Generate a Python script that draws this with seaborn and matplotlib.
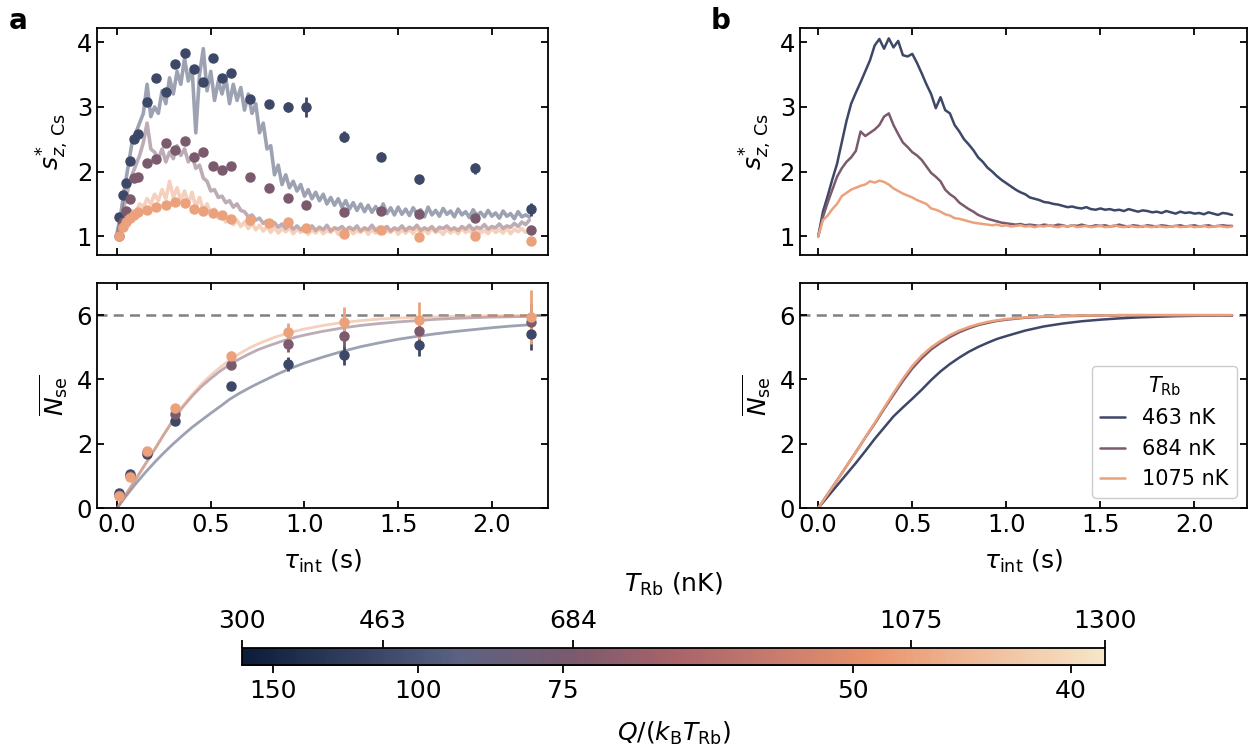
import numpy as np
import matplotlib
matplotlib.use("Agg")
import matplotlib.pyplot as plt
import seaborn as sns
from matplotlib.colors import LinearSegmentedColormap, Normalize
from matplotlib.cm import ScalarMappable

# ---------------------------------------------------------------- data
temps_nK = [463, 684, 1075]
temp_labels = ["463 nK", "684 nK", "1075 nK"]

# measured spin polarisation (panel a, top)
t_meas = [0.01, 0.03, 0.05, 0.07, 0.09, 0.11, 0.16, 0.21, 0.26, 0.31, 0.36, 0.41,
          0.46, 0.51, 0.56, 0.61, 0.71, 0.81, 0.91, 1.01, 1.21, 1.41, 1.61, 1.91, 2.21]
s_meas_463 = [1.30, 1.64, 1.82, 2.17, 2.51, 2.58, 3.07, 3.44, 3.23, 3.67, 3.84, 3.58,
              3.38, 3.76, 3.45, 3.53, 3.13, 3.04, 3.00, 3.00, 2.54, 2.23, 1.88, 2.05, 1.42]
s_meas_684 = [1.00, 1.22, 1.39, 1.57, 1.90, 1.91, 2.14, 2.20, 2.44, 2.34, 2.48, 2.22,
              2.31, 2.09, 2.03, 2.08, 1.92, 1.74, 1.59, 1.48, 1.37, 1.39, 1.34, 1.28, 1.09]
s_meas_1075 = [1.00, 1.14, 1.22, 1.28, 1.33, 1.38, 1.41, 1.46, 1.49, 1.53, 1.52, 1.42,
               1.39, 1.36, 1.33, 1.27, 1.25, 1.21, 1.22, 1.12, 1.04, 1.10, 0.99, 1.00, 0.93]
s_err_463 = [0.05, 0.05, 0.05, 0.05, 0.05, 0.05, 0.05, 0.05, 0.05, 0.05, 0.05, 0.05,
             0.05, 0.05, 0.05, 0.05, 0.06, 0.06, 0.08, 0.15, 0.08, 0.07, 0.07, 0.08, 0.10]
s_err_684 = [0.03] * 25
s_err_1075 = [0.03] * 25

# single-trajectory simulation traces (panel a, top), sampled every 20 ms
t_trace_a = np.round(np.arange(111) * 0.02, 2)
trace_a_463 = [1.05, 1.35, 1.75, 2.10, 2.45, 2.60, 2.75, 2.90, 3.35, 2.85, 3.00,
               2.90, 3.25, 3.05, 3.45, 3.20, 3.55, 3.35, 3.75, 3.40, 3.60,
               2.60, 3.50, 3.90, 3.25, 3.55, 3.10, 3.40, 3.20, 3.45, 3.05,
               3.35, 3.10, 3.30, 2.95, 3.20, 2.90, 3.05, 2.60, 2.75, 2.35,
               2.40, 1.95, 2.10, 1.80, 1.95, 1.75, 1.85, 1.70, 1.80, 1.62,
               1.72, 1.58, 1.68, 1.55, 1.65, 1.50, 1.60, 1.48, 1.58, 1.45,
               1.55, 1.42, 1.52, 1.40, 1.50, 1.38, 1.48, 1.37, 1.46, 1.36,
               1.50, 1.35, 1.44, 1.33, 1.45, 1.34, 1.42, 1.32, 1.44, 1.35,
               1.41, 1.30, 1.45, 1.33, 1.40, 1.31, 1.43, 1.34, 1.39, 1.30,
               1.42, 1.33, 1.38, 1.29, 1.41, 1.32, 1.37, 1.30, 1.40, 1.31,
               1.36, 1.28, 1.39, 1.31, 1.35, 1.27, 1.38, 1.30, 1.33, 1.30]
trace_a_684 = [1.00, 1.25, 1.50, 1.75, 1.95, 2.10, 2.25, 2.45, 2.75, 2.35, 2.30,
               2.20, 2.35, 2.15, 2.30, 2.20, 2.40, 2.25, 2.35, 2.15, 2.25,
               2.05, 2.10, 1.90, 1.85, 1.70, 1.72, 1.60, 1.62, 1.52, 1.55,
               1.45, 1.50, 1.40, 1.38, 1.30, 1.33, 1.25, 1.28, 1.20, 1.24,
               1.17, 1.21, 1.14, 1.19, 1.12, 1.18, 1.11, 1.16, 1.10, 1.15,
               1.10, 1.16, 1.09, 1.14, 1.10, 1.17, 1.08, 1.13, 1.11, 1.15,
               1.09, 1.14, 1.10, 1.16, 1.08, 1.13, 1.10, 1.17, 1.09, 1.14,
               1.11, 1.15, 1.08, 1.13, 1.10, 1.16, 1.09, 1.14, 1.11, 1.17,
               1.09, 1.13, 1.10, 1.15, 1.08, 1.14, 1.12, 1.16, 1.10, 1.13,
               1.09, 1.15, 1.11, 1.17, 1.10, 1.14, 1.12, 1.18, 1.11, 1.15,
               1.13, 1.19, 1.12, 1.16, 1.14, 1.20, 1.15, 1.22, 1.18, 1.25]
trace_a_1075 = [1.00, 1.15, 1.25, 1.32, 1.40, 1.38, 1.50, 1.45, 1.58, 1.50, 1.65,
                1.55, 1.72, 1.58, 1.85, 1.60, 1.75, 1.55, 1.70, 1.50, 1.68,
                1.45, 1.60, 1.40, 1.50, 1.35, 1.42, 1.28, 1.35, 1.22, 1.30,
                1.18, 1.25, 1.15, 1.22, 1.12, 1.20, 1.10, 1.17, 1.08, 1.15,
                1.06, 1.14, 1.05, 1.12, 1.07, 1.13, 1.04, 1.11, 1.06, 1.12,
                1.03, 1.10, 1.05, 1.12, 1.04, 1.09, 1.06, 1.13, 1.03, 1.10,
                1.05, 1.11, 1.04, 1.09, 1.06, 1.12, 1.03, 1.10, 1.05, 1.11,
                1.04, 1.09, 1.06, 1.12, 1.03, 1.10, 1.05, 1.11, 1.04, 1.13,
                1.05, 1.10, 1.04, 1.12, 1.06, 1.09, 1.03, 1.11, 1.05, 1.10,
                1.04, 1.12, 1.06, 1.10, 1.03, 1.11, 1.05, 1.09, 1.04, 1.12,
                1.06, 1.10, 1.05, 1.13, 1.04, 1.11, 1.07, 1.12, 1.06, 1.10]

# mean number of spin-exchange collisions (panel a, bottom)
t_nse = [0.01, 0.07, 0.16, 0.31, 0.61, 0.91, 1.21, 1.61, 2.21]
nse_463 = [0.48, 1.06, 1.68, 2.71, 3.80, 4.49, 4.75, 5.06, 5.41]
nse_684 = [0.40, 1.00, 1.75, 2.92, 4.44, 5.11, 5.34, 5.50, 5.79]
nse_1075 = [0.37, 0.97, 1.77, 3.10, 4.72, 5.47, 5.79, 5.84, 5.94]
nse_err_463 = [0.05, 0.05, 0.05, 0.08, 0.12, 0.22, 0.30, 0.32, 0.50]
nse_err_684 = [0.05, 0.05, 0.06, 0.08, 0.12, 0.25, 0.32, 0.35, 0.60]
nse_err_1075 = [0.05, 0.05, 0.06, 0.09, 0.17, 0.30, 0.45, 0.57, 0.83]

# model curves for N_se
t_curve = [0.0, 0.05, 0.1, 0.15, 0.2, 0.25, 0.3, 0.35, 0.4, 0.45, 0.5, 0.55, 0.6,
           0.65, 0.7, 0.75, 0.8, 0.85, 0.9, 0.95, 1.0, 1.1, 1.2, 1.3, 1.4, 1.5,
           1.6, 1.7, 1.8, 1.9, 2.0, 2.1, 2.2]
fit_a_463 = [0.0, 0.39, 0.76, 1.10, 1.42, 1.72, 2.00, 2.26, 2.51, 2.73, 2.95, 3.16, 3.38,
             3.56, 3.72, 3.87, 4.01, 4.15, 4.28, 4.40, 4.51, 4.70, 4.87, 5.02, 5.14, 5.25,
             5.34, 5.42, 5.49, 5.55, 5.61, 5.66, 5.70]
fit_a_684 = [0.0, 0.45, 0.90, 1.36, 1.82, 2.29, 2.74, 3.14, 3.48, 3.78, 4.03, 4.26, 4.46,
             4.63, 4.78, 4.92, 5.03, 5.13, 5.23, 5.31, 5.38, 5.50, 5.60, 5.68, 5.74, 5.79,
             5.83, 5.87, 5.90, 5.92, 5.94, 5.95, 5.96]
fit_a_1075 = [0.0, 0.45, 0.90, 1.36, 1.82, 2.30, 2.75, 3.17, 3.53, 3.85, 4.13, 4.38, 4.60,
              4.79, 4.96, 5.10, 5.22, 5.33, 5.42, 5.50, 5.57, 5.68, 5.77, 5.83, 5.88, 5.91,
              5.93, 5.95, 5.96, 5.97, 5.98, 5.98, 5.99]

# simulated ensemble averages (panel b), sampled every 25 ms
t_trace_b = np.round(np.arange(89) * 0.025, 3)
trace_b_463 = [1.00, 1.38, 1.62, 1.88, 2.12, 2.45, 2.78, 3.05, 3.22, 3.38,
               3.55, 3.72, 3.95, 4.05, 3.90, 4.06, 3.92, 4.02, 3.80, 3.78,
               3.82, 3.68, 3.52, 3.35, 3.20, 2.98, 3.15, 2.95, 2.90, 2.72,
               2.62, 2.50, 2.42, 2.33, 2.22, 2.15, 2.06, 2.00, 1.93, 1.87,
               1.82, 1.77, 1.72, 1.68, 1.65, 1.60, 1.58, 1.56, 1.53, 1.52,
               1.50, 1.49, 1.47, 1.45, 1.46, 1.44, 1.43, 1.45, 1.42, 1.41,
               1.43, 1.41, 1.42, 1.40, 1.41, 1.39, 1.42, 1.40, 1.38, 1.40,
               1.39, 1.37, 1.38, 1.36, 1.39, 1.37, 1.35, 1.38, 1.36, 1.37,
               1.35, 1.36, 1.34, 1.37, 1.35, 1.33, 1.36, 1.35, 1.33]
trace_b_684 = [1.00, 1.30, 1.52, 1.72, 1.92, 2.05, 2.15, 2.22, 2.32, 2.62,
               2.55, 2.60, 2.65, 2.72, 2.85, 2.90, 2.72, 2.58, 2.45, 2.38,
               2.30, 2.25, 2.18, 2.08, 1.98, 1.92, 1.85, 1.72, 1.65, 1.60,
               1.52, 1.47, 1.42, 1.38, 1.33, 1.30, 1.27, 1.25, 1.23, 1.21,
               1.20, 1.19, 1.18, 1.19, 1.17, 1.18, 1.17, 1.16, 1.18, 1.17,
               1.16, 1.18, 1.17, 1.15, 1.17, 1.16, 1.18, 1.16, 1.15, 1.17,
               1.16, 1.17, 1.15, 1.16, 1.18, 1.16, 1.15, 1.17, 1.16, 1.15,
               1.17, 1.16, 1.15, 1.17, 1.16, 1.15, 1.16, 1.17, 1.15, 1.16,
               1.17, 1.15, 1.16, 1.17, 1.15, 1.16, 1.17, 1.16, 1.16]
trace_b_1075 = [1.00, 1.25, 1.32, 1.42, 1.50, 1.62, 1.67, 1.72, 1.75, 1.78,
                1.80, 1.85, 1.83, 1.86, 1.84, 1.80, 1.74, 1.70, 1.66, 1.63,
                1.60, 1.56, 1.53, 1.50, 1.43, 1.41, 1.38, 1.34, 1.32, 1.28,
                1.27, 1.25, 1.23, 1.21, 1.20, 1.19, 1.18, 1.17, 1.18, 1.16,
                1.17, 1.15, 1.16, 1.17, 1.15, 1.16, 1.14, 1.16, 1.15, 1.17,
                1.15, 1.14, 1.16, 1.15, 1.17, 1.14, 1.15, 1.16, 1.14, 1.15,
                1.16, 1.14, 1.15, 1.17, 1.15, 1.14, 1.16, 1.15, 1.14, 1.16,
                1.15, 1.14, 1.16, 1.15, 1.14, 1.15, 1.16, 1.14, 1.15, 1.16,
                1.14, 1.15, 1.16, 1.14, 1.15, 1.16, 1.15, 1.14, 1.15]
nse_b_463 = [0.0, 0.35, 0.70, 1.05, 1.40, 1.77, 2.15, 2.50, 2.85, 3.13, 3.40, 3.68, 3.98,
             4.25, 4.48, 4.68, 4.86, 5.01, 5.14, 5.26, 5.35, 5.52, 5.65, 5.74, 5.81, 5.86,
             5.90, 5.93, 5.95, 5.97, 5.98, 5.99, 5.99]
nse_b_684 = [0.0, 0.43, 0.86, 1.30, 1.74, 2.19, 2.62, 3.08, 3.52, 3.95, 4.34, 4.66, 4.93,
             5.14, 5.32, 5.47, 5.59, 5.69, 5.76, 5.82, 5.86, 5.92, 5.95, 5.97, 5.98, 5.99,
             6.0, 6.0, 6.0, 6.0, 6.0, 6.0, 6.0]
nse_b_1075 = [0.0, 0.43, 0.86, 1.30, 1.74, 2.20, 2.65, 3.12, 3.58, 4.02, 4.42, 4.74, 5.00,
              5.20, 5.38, 5.52, 5.63, 5.72, 5.79, 5.84, 5.88, 5.93, 5.96, 5.98, 5.99, 5.99,
              6.0, 6.0, 6.0, 6.0, 6.0, 6.0, 6.0]

nse_max = 6

# colour bar
cbar_T_ticks = [300, 463, 684, 1075, 1300]
cbar_Q_ticks = [150, 100, 75, 50, 40]
Q_over_kB_nK = 50400.0

# ---------------------------------------------------------------- style
sns.set_theme(style="ticks")
plt.rcParams.update({
    "font.family": ["DejaVu Sans"],
    "mathtext.fontset": "dejavusans",
    "font.size": 18,
    "axes.labelsize": 18,
    "xtick.labelsize": 17.5,
    "ytick.labelsize": 17.5,
    "axes.linewidth": 1.3,
    "axes.edgecolor": "black",
    "axes.labelcolor": "black",
    "text.color": "black",
    "xtick.color": "black",
    "ytick.color": "black",
    "xtick.direction": "in",
    "ytick.direction": "in",
    "xtick.top": True,
    "ytick.right": True,
    "xtick.major.size": 5,
    "ytick.major.size": 5,
    "xtick.major.width": 1.3,
    "ytick.major.width": 1.3,
})

cmap = LinearSegmentedColormap.from_list(
    "rb_temp",
    [(0.0, "#0b1d38"), (0.163, "#3e4868"), (0.25, "#5b6282"), (0.384, "#7b5a6d"),
     (0.50, "#a8636a"), (0.61, "#c57a6e"), (0.73, "#e9936b"), (0.845, "#efb896"),
     (1.0, "#f6e6c8")])
norm = Normalize(vmin=300, vmax=1300)
colors = [cmap(norm(T)) for T in temps_nK]

fig = plt.figure(figsize=(12.49, 7.45), dpi=100)
ax_a1 = fig.add_axes([0.0777, 0.6577, 0.3611, 0.3047])
ax_a2 = fig.add_axes([0.0777, 0.3181, 0.3611, 0.3020])
ax_b1 = fig.add_axes([0.6405, 0.6577, 0.3580, 0.3047])
ax_b2 = fig.add_axes([0.6405, 0.3181, 0.3580, 0.3020])
cax = fig.add_axes([0.1938, 0.1074, 0.6910, 0.0228])

# ---------------------------------------------------------------- panel a, top
for tr, c in zip([trace_a_463, trace_a_684, trace_a_1075], colors):
    sns.lineplot(x=t_trace_a, y=tr, ax=ax_a1, color=c, alpha=0.5, lw=2.6,
                 estimator=None, sort=False, zorder=1)
for s, e, c in zip([s_meas_463, s_meas_684, s_meas_1075],
                   [s_err_463, s_err_684, s_err_1075], colors):
    ax_a1.errorbar(t_meas, s, yerr=e, fmt="o", color=c, ms=6.5, elinewidth=2,
                   capsize=0, zorder=3)

# ---------------------------------------------------------------- panel a, bottom
ax_a2.axhline(nse_max, color="#808080", ls=(0, (4, 2.5)), lw=1.8, zorder=0)
for f, c in zip([fit_a_463, fit_a_684, fit_a_1075], colors):
    sns.lineplot(x=t_curve, y=f, ax=ax_a2, color=c, alpha=0.5, lw=2,
                 estimator=None, sort=False, zorder=1)
for n, e, c in zip([nse_463, nse_684, nse_1075],
                   [nse_err_463, nse_err_684, nse_err_1075], colors):
    ax_a2.errorbar(t_nse, n, yerr=e, fmt="o", color=c, ms=6.5, elinewidth=2,
                   capsize=0, zorder=3)

# ---------------------------------------------------------------- panel b
for tr, c in zip([trace_b_463, trace_b_684, trace_b_1075], colors):
    sns.lineplot(x=t_trace_b, y=tr, ax=ax_b1, color=c, lw=1.8,
                 estimator=None, sort=False)

ax_b2.axhline(nse_max, color="#808080", ls=(0, (4, 2.5)), lw=1.8, zorder=0)
for f, c, lab in zip([nse_b_463, nse_b_684, nse_b_1075], colors, temp_labels):
    sns.lineplot(x=t_curve, y=f, ax=ax_b2, color=c, lw=1.8, label=lab,
                 estimator=None, sort=False)
ax_b2.legend(title=r"$T_{\mathrm{Rb}}$", loc="lower right", fontsize=15,
             title_fontsize=15, handlelength=1.2, frameon=True, fancybox=True,
             edgecolor="#cccccc", framealpha=1.0, borderaxespad=0.5)

# ---------------------------------------------------------------- axes cosmetics
for ax in (ax_a1, ax_b1):
    ax.set_ylim(0.71, 4.22)
    ax.set_yticks([1, 2, 3, 4])
    ax.set_ylabel(r"$s^{*}_{z,\,\mathrm{Cs}}$")
    ax.tick_params(labelbottom=False)
for ax in (ax_a2, ax_b2):
    ax.set_ylim(0, 7)
    ax.set_yticks([0, 2, 4, 6])
    ax.set_ylabel(r"$\overline{N_{\mathrm{se}}}$")
    ax.set_xlabel(r"$\tau_{\mathrm{int}}$ (s)", labelpad=8)
for ax in (ax_a1, ax_a2):
    ax.set_xlim(-0.107, 2.30)
for ax in (ax_b1, ax_b2):
    ax.set_xlim(-0.097, 2.28)
for ax in (ax_a1, ax_a2, ax_b1, ax_b2):
    ax.set_xticks([0, 0.5, 1.0, 1.5, 2.0])
    ax.xaxis.set_major_formatter(matplotlib.ticker.FormatStrFormatter("%.1f"))
    ax.tick_params(which="both", direction="in", top=True, right=True)
    ax.minorticks_off()

fig.text(0.007, 0.972, "a", fontsize=20, fontweight="bold", va="center")
fig.text(0.569, 0.972, "b", fontsize=20, fontweight="bold", va="center")

# ---------------------------------------------------------------- colour bar
cbar_fs = 18
sm = ScalarMappable(norm=norm, cmap=cmap)
cb = fig.colorbar(sm, cax=cax, orientation="horizontal")
cb.outline.set_linewidth(1.3)
cax.xaxis.set_ticks_position("top")
cax.xaxis.set_label_position("top")
cax.set_xticks(cbar_T_ticks)
cax.tick_params(axis="x", direction="out", length=6, width=1.3, top=True,
                bottom=False, labeltop=True, labelbottom=False,
                labelsize=cbar_fs, pad=5)
cax.set_xlabel(r"$T_{\mathrm{Rb}}$ (nK)", labelpad=12, fontsize=cbar_fs)


def temp_to_q(x):
    x = np.asarray(x, dtype=float)
    with np.errstate(divide="ignore", invalid="ignore"):
        return Q_over_kB_nK / x


sec = cax.secondary_xaxis("bottom", functions=(temp_to_q, temp_to_q))
sec.set_xticks(cbar_Q_ticks)
sec.xaxis.set_major_formatter(matplotlib.ticker.FormatStrFormatter("%d"))
sec.tick_params(axis="x", direction="out", length=6, width=1.3,
                labelsize=cbar_fs, pad=4)
sec.set_xlabel(r"$Q/(k_{\mathrm{B}}T_{\mathrm{Rb}})$", labelpad=12, fontsize=cbar_fs)

fig.savefig("out.png", dpi=100)
